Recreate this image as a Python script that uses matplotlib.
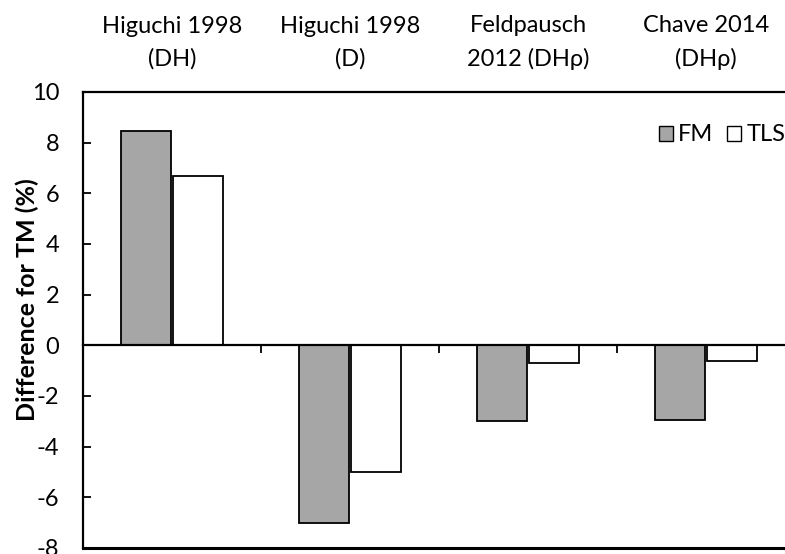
import numpy as np
import matplotlib
matplotlib.use("Agg")
import matplotlib.pyplot as plt
from matplotlib.patches import Patch

# dados
categorias = ["Higuchi 1998\n(DH)", "Higuchi 1998\n(D)", "Feldpausch\n2012 (DHρ)", "Chave 2014\n(DHρ)"]
fm = [8.46, -7.02, -2.99, -2.96]
tls = [6.69, -5.0, -0.68, -0.63]
yticks = list(range(-8, 11, 2))

plt.rcParams['font.family'] = ['Lato', 'DejaVu Sans']
plt.rcParams['axes.unicode_minus'] = False

fig = plt.figure(figsize=(7.85, 5.54), dpi=100)
W, H = 785, 554
ax = fig.add_axes([83 / W, 6 / H, (795 - 83) / W, (462 - 6) / H])

x = np.arange(len(categorias))
larg = 0.28
gap = 0.008
ax.bar(x - larg / 2 - gap, fm, larg, color='#a6a6a6', edgecolor='black', linewidth=1.3, label='FM', zorder=2)
ax.bar(x + larg / 2 + gap, tls, larg, color='white', edgecolor='black', linewidth=1.3, label='TLS', zorder=2)

ax.set_xlim(-0.5, len(categorias) - 0.5)
ax.set_ylim(-8, 10)
ax.set_yticks(yticks)
ax.tick_params(axis='y', direction='in', length=6, width=1.3, labelsize=17, pad=17)

# eixo x na linha do zero, com marcas entre categorias
ax.spines['bottom'].set_position(('data', 0))
ax.spines['bottom'].set_zorder(3)
ax.set_xticks(np.arange(0.5, len(categorias) - 0.5, 1))
ax.set_xticklabels([])
ax.tick_params(axis='x', direction='out', length=6, width=1.3)
for s in ax.spines.values():
    s.set_linewidth(1.6)

# linha inferior do quadro
ax.axhline(-8, color='black', linewidth=2.2, clip_on=False, zorder=3)

# rótulos das categorias no topo
topo = ax.secondary_xaxis('top')
topo.set_xticks(x)
topo.set_xticklabels(categorias, fontsize=17, linespacing=1.65)
topo.tick_params(length=0, pad=16)
topo.spines['top'].set_visible(False)

ax.set_ylabel('Difference for TM (%)', fontsize=18, fontweight='bold', va='center')
ax.yaxis.set_label_coords((27 - 83) / 712, (548 - 300) / 456)

ax.legend(handles=[Patch(facecolor='#a6a6a6', edgecolor='black', label='FM'),
                   Patch(facecolor='white', edgecolor='black', label='TLS')],
          loc='center left', bbox_to_anchor=(576 / 712, 0.906), ncol=2, frameon=False,
          fontsize=17, handlelength=0.6, handleheight=0.6, handletextpad=0.2,
          columnspacing=0.6, borderaxespad=0, borderpad=0)

fig.savefig('out.png', dpi=100)
